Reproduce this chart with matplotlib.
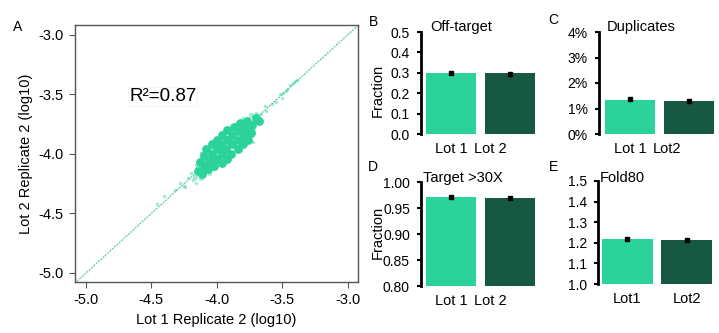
import matplotlib
matplotlib.use("Agg")
import matplotlib.pyplot as plt
from matplotlib.ticker import PercentFormatter, FormatStrFormatter

plt.rcParams["font.family"] = ["Liberation Sans", "DejaVu Sans"]

LIGHT = "#2bd39b"
DARK = "#175843"

# panel A: dense core of the replicate cloud (log10 values)
core_x = [-4.14, -4.11, -4.13, -4.10, -4.07, -4.10, -4.06, -4.02,
          -4.08, -4.04, -4.00, -3.96, -4.04, -4.00, -3.96, -3.92,
          -4.00, -3.97, -3.93, -3.89, -3.96, -3.92, -3.88, -3.84,
          -3.92, -3.88, -3.84, -3.80, -3.87, -3.83, -3.79, -3.76,
          -3.82, -3.78, -3.74, -3.77, -3.73, -3.70, -3.68]
core_y = [-4.14, -4.17, -4.07, -4.10, -4.13, -4.02, -4.06, -4.10,
          -3.96, -4.00, -4.04, -4.08, -3.92, -3.96, -4.00, -4.04,
          -3.88, -3.92, -3.96, -4.00, -3.84, -3.88, -3.92, -3.96,
          -3.80, -3.84, -3.88, -3.92, -3.77, -3.81, -3.85, -3.88,
          -3.74, -3.78, -3.82, -3.72, -3.76, -3.70, -3.72]
# fainter points on the rim of the cloud
rim_x = [-4.17, -4.15, -4.11, -4.05, -3.99, -3.95, -3.86, -3.80, -3.74, -3.70,
         -3.72, -3.78, -3.84, -3.90, -3.96, -4.01, -4.06, -4.12]
rim_y = [-4.19, -4.09, -4.00, -3.95, -3.87, -3.83, -3.76, -3.71, -3.67, -3.66,
         -3.80, -3.87, -3.94, -4.00, -4.06, -4.12, -4.16, -4.20]
# sparse points along the tails
tail_x = [-4.18, -4.20, -4.22, -4.25, -4.28, -4.16, -4.32, -4.40, -4.46, -4.12,
          -3.66, -3.63, -3.62, -3.58, -3.55, -3.52, -3.50, -3.49, -3.47, -3.46,
          -3.44, -3.42, -3.40, -3.39, -3.72, -4.24]
tail_y = [-4.22, -4.16, -4.20, -4.27, -4.24, -4.24, -4.30, -4.35, -4.42, -3.99,
          -3.66, -3.60, -3.64, -3.58, -3.56, -3.50, -3.53, -3.49, -3.47, -3.45,
          -3.42, -3.40, -3.39, -3.38, -3.90, -4.28]
diag = [-5.1, -2.9]
r2_text = "R\u00b2=0.87"

# panels B-E
lots = [0, 1]
off_target = [0.297, 0.297]
off_target_pt = [0.298, 0.295]
off_target_err = [0.003, 0.006]
duplicates = [0.01345, 0.0130]
duplicates_pt = [0.0136, 0.0131]
duplicates_err = [0.0004, 0.0004]
target30 = [0.9706, 0.9687]
target30_pt = [0.9710, 0.9690]
target30_err = [0.001, 0.001]
fold80 = [1.217, 1.212]
fold80_pt = [1.218, 1.213]
fold80_err = [0.003, 0.003]

W, H = 719, 333
fig = plt.figure(figsize=(W / 100, H / 100), dpi=100)


def box(l, t, r, b):
    return [l / W, 1 - b / H, (r - l) / W, (b - t) / H]


# ---- A
ax = fig.add_axes(box(75, 25, 358, 282))
ax.plot(diag, diag, color="#c8c8c8", lw=0.8, ls=(0, (1, 1)), zorder=1)
ax.plot(diag, diag, color=LIGHT, lw=0.9, ls=(0, (1, 1.5)), zorder=2)
ax.scatter(tail_x, tail_y, s=6, color=LIGHT, alpha=0.45, lw=0, zorder=3)
ax.scatter(rim_x, rim_y, s=14, color=LIGHT, alpha=0.45, lw=0, zorder=3)
ax.scatter(core_x, core_y, s=40, color=LIGHT, alpha=1.0, lw=0, zorder=3)
ax.set_xlim(-5.084, -2.92)
ax.set_ylim(-5.076, -2.916)
ax.set_xticks([-5.0, -4.5, -4.0, -3.5, -3.0])
ax.set_yticks([-5.0, -4.5, -4.0, -3.5, -3.0])
ax.xaxis.set_major_formatter(FormatStrFormatter("%.1f"))
ax.yaxis.set_major_formatter(FormatStrFormatter("%.1f"))
for s in ax.spines.values():
    s.set_color("#555555")
    s.set_linewidth(1.0)
ax.tick_params(direction="out", length=4, width=0.8, color="#555555",
               labelsize=10.5, pad=4)
ax.set_xlabel("Lot 1 Replicate 2 (log10)", fontsize=10.5, labelpad=4)
ax.set_ylabel("Lot 2 Replicate 2 (log10)", fontsize=10.5, labelpad=4)
ax.text(-4.67, -3.52, r2_text, fontsize=13.5, va="center", ha="left",
        bbox=dict(boxstyle="square,pad=0.05", fc="white", ec="#f0f0f0", lw=0.5))
fig.text(18 / W, 1 - 27 / H, "A", fontsize=10, ha="center", va="center")


def bars(rect, vals, pts, errs, ylim, yticks, fmt, title, tx, ticks, labels,
         letter, lpos, ylabel=None):
    a = fig.add_axes(rect)
    a.bar(lots, vals, width=0.85, color=[LIGHT, DARK])
    a.errorbar(lots, pts, yerr=errs, fmt="s", ms=2.8, color="black",
               ecolor="black", elinewidth=1.2, capsize=0)
    a.set_ylim(*ylim)
    a.set_yticks(yticks)
    a.yaxis.set_major_formatter(fmt)
    for k in ["top", "right", "bottom"]:
        a.spines[k].set_visible(False)
    a.spines["left"].set_linewidth(2)
    a.tick_params(axis="y", direction="out", length=3, width=1.5,
                  labelsize=10, pad=5)
    a.set_xticks(ticks)
    a.set_xticklabels(labels)
    a.tick_params(axis="x", length=0, labelsize=10.5, pad=6)
    a.text(tx[0], tx[1], title, transform=a.transAxes, fontsize=10.5,
           ha="left", va="baseline")
    fig.text(lpos[0] / W, 1 - lpos[1] / H, letter, fontsize=10,
             ha="center", va="center")
    if ylabel:
        fig.text(378 / W, 1 - ylabel / H, "Fraction", fontsize=10.5,
                 rotation=90, ha="center", va="center")
    return a


b = bars(box(421, 32, 540, 134), off_target, off_target_pt, off_target_err,
         (0, 0.5), [0, 0.1, 0.2, 0.3, 0.4, 0.5], FormatStrFormatter("%.1f"),
         "Off-target", (0.076, 1.01), [0, 0.66], ["Lot 1", "Lot 2"],
         "B", (373, 22), ylabel=90)
b.set_xlim(-0.51, 1.51)

c = bars(box(599, 32, 719, 134), duplicates, duplicates_pt, duplicates_err,
         (0, 0.04), [0, 0.01, 0.02, 0.03, 0.04], PercentFormatter(1.0, decimals=0),
         "Duplicates", (0.067, 1.01), [0, 0.63], ["Lot 1", "Lot2"],
         "C", (553, 20))
c.set_xlim(-0.527, 1.51)

d = bars(box(421, 182, 540, 286), target30, target30_pt, target30_err,
         (0.8, 1.0), [0.80, 0.85, 0.90, 0.95, 1.00], FormatStrFormatter("%.2f"),
         "Target >30X", (0.017, 1.0), [0, 0.66], ["Lot 1", "Lot 2"],
         "D", (373, 167), ylabel=232)
d.set_xlim(-0.51, 1.51)

e = bars(box(598, 181, 719, 284), fold80, fold80_pt, fold80_err,
         (1.0, 1.5), [1.0, 1.1, 1.2, 1.3, 1.4, 1.5], FormatStrFormatter("%.1f"),
         "Fold80", (0.017, 0.99), [0, 1], ["Lot1", "Lot2"],
         "E", (553, 167))
e.set_xlim(-0.49, 1.54)

fig.savefig("out.png", dpi=100)
